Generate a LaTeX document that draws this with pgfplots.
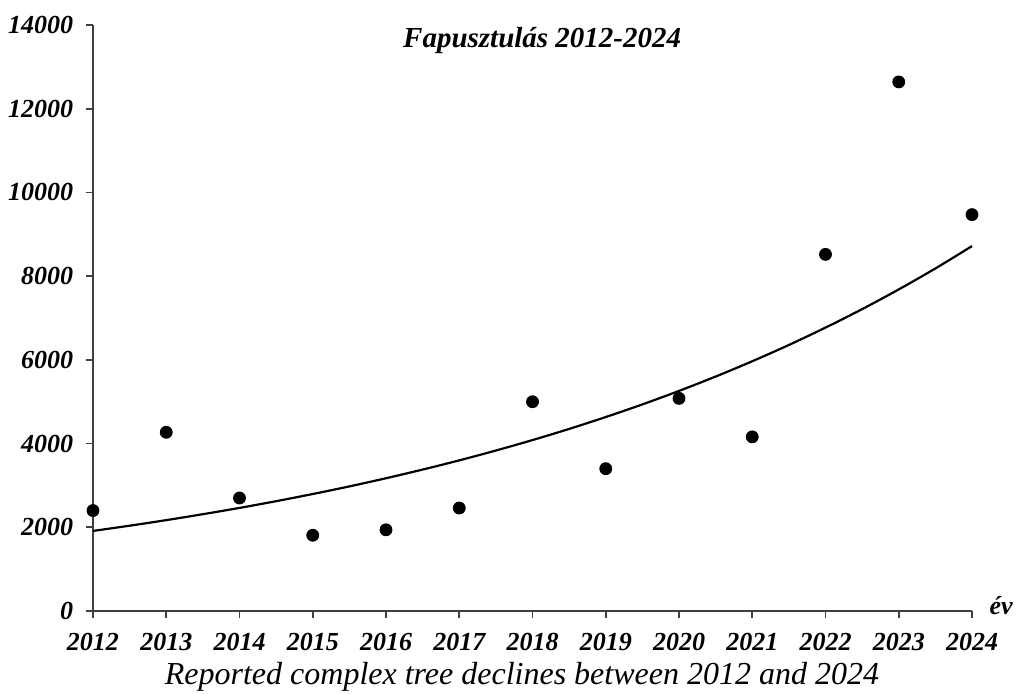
\documentclass[border=0pt]{standalone}
\usepackage{fontspec}
\setmainfont{Liberation Serif}
\usepackage{pgfplots}
\pgfplotsset{compat=1.18}
\begin{document}
\begin{tikzpicture}[x=1pt,y=1pt]
% bounding box: 1 px = 0.5 pt; axis lower-left at (0,0)
\path[use as bounding box] (-46.5,-41) rectangle (461.5,305.5);
\begin{axis}[
  at={(0,0)}, anchor=origin,
  scale only axis, width=439.5pt, height=293pt,
  xmin=2012, xmax=2024, ymin=0, ymax=14000,
  scaled y ticks=false, scaled x ticks=false,
  axis x line*=bottom, axis y line*=left,
  axis line style={black!75, line width=0.8pt},
  tick style={black!75, line width=0.8pt},
  tick align=outside, major tick length=3.4pt,
  xtick={2012,2013,2014,2015,2016,2017,2018,2019,2020,2021,2022,2023,2024},
  xticklabels={2012,2013,2014,2015,2016,2017,2018,2019,2020,2021,2022,2023,2024},
  ytick={0,2000,4000,6000,8000,10000,12000,14000},
  yticklabels={0,2000,4000,6000,8000,10000,12000,14000},
  tick label style={font=\fontsize{13}{14}\selectfont\bfseries\itshape},
  xticklabel style={yshift=-4pt},
  yticklabel style={xshift=-3pt},
  clip=false,
]
\addplot[only marks, mark=*, mark size=3pt, black] coordinates {
(2012,2400) (2013,4270) (2014,2700) (2015,1810) (2016,1940) (2017,2460)
(2018,5000) (2019,3400) (2020,5080) (2021,4160) (2022,8520) (2023,12640) (2024,9470)
};
\addplot[black, line width=1.1pt, smooth] coordinates {
(2012,1913) (2012.5,2038) (2013,2171) (2013.5,2313) (2014,2463) (2014.5,2624)
(2015,2795) (2015.5,2977) (2016,3172) (2016.5,3379) (2017,3599) (2017.5,3834)
(2018,4084) (2018.5,4350) (2019,4634) (2019.5,4936) (2020,5258) (2020.5,5601)
(2021,5967) (2021.5,6356) (2022,6771) (2022.5,7212) (2023,7683) (2023.5,8184) (2024,8718)
};
\node[font=\fontsize{14.5}{17}\selectfont\bfseries\itshape] at (rel axis cs:0.511,0.974) {Fapusztulás 2012-2024};
\node[font=\fontsize{13}{14}\selectfont\bfseries\itshape, anchor=west] at (rel axis cs:1.012,0.01) {év};
\node[font=\fontsize{16}{18}\selectfont\itshape] at (rel axis cs:0.488,-0.113) {Reported complex tree declines between 2012 and 2024};
\end{axis}
\end{tikzpicture}
\end{document}
